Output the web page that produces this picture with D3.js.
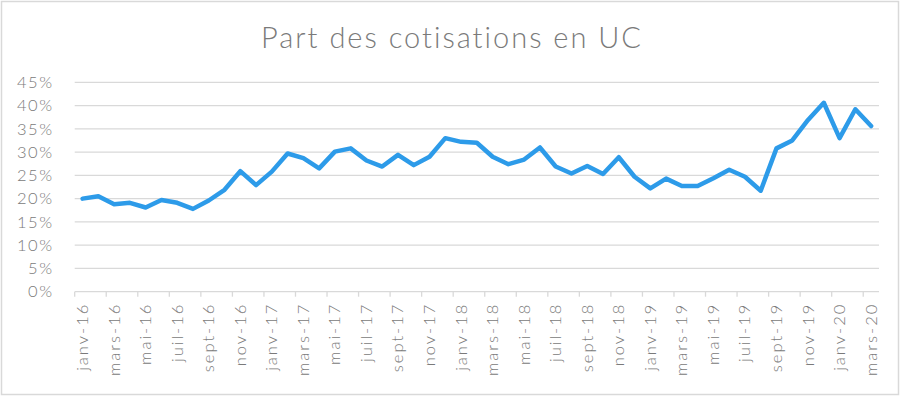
<!DOCTYPE html>
<html>
<head>
<meta charset="utf-8">
<script src="https://cdn.jsdelivr.net/npm/d3@7"></script>
<style>
  body { margin: 0; background: #fff; }
  svg { display: block; font-family: Lato, "Open Sans", sans-serif; }
</style>
</head>
<body>
<div id="chart"></div>
<script>
const titleText = 'Part des cotisations en UC';

const monthNames = ['janv', 'févr', 'mars', 'avr', 'mai', 'juin', 'juil', 'août', 'sept', 'oct', 'nov', 'déc'];

// janv-16 .. mars-20
const categories = [];
for (let y = 16; y <= 20; y++) {
  for (let m = 0; m < 12; m++) {
    if (y === 20 && m > 2) break;
    categories.push(monthNames[m] + '-' + y);
  }
}

const valuesUC = [
  20.0, 20.5, 18.8, 19.1, 18.1, 19.7, 19.1, 17.8, 19.6, 21.9,
  25.9, 22.9, 25.8, 29.7, 28.7, 26.5, 30.1, 30.8, 28.2, 26.9,
  29.4, 27.2, 29.0, 33.0, 32.2, 32.0, 29.0, 27.4, 28.4, 31.0,
  26.9, 25.4, 27.0, 25.3, 28.9, 24.7, 22.2, 24.3, 22.7, 22.7,
  24.4, 26.2, 24.7, 21.7, 30.8, 32.5, 36.9, 40.6, 33.0, 39.2, 35.6
];

const yTicks = [0, 5, 10, 15, 20, 25, 30, 35, 40, 45];

const W = 902, H = 397;
const margin = { left: 74.7, right: 23, top: 82.3, bottom: 105.3 };
const textGray = '#7a7a7a';

const svg = d3.select('#chart').append('svg')
  .attr('width', W).attr('height', H);

// outer frame
svg.append('rect')
  .attr('x', 1.5).attr('y', 1.5)
  .attr('width', W - 5).attr('height', H - 4)
  .attr('fill', '#fff')
  .attr('stroke', '#d9d9d9')
  .attr('stroke-width', 1.5);

svg.append('text')
  .attr('x', 452).attr('y', 48)
  .attr('text-anchor', 'middle')
  .attr('font-size', 29)
  .attr('font-weight', 300)
  .attr('letter-spacing', 2)
  .attr('fill', textGray)
  .text(titleText);

const x = d3.scaleBand()
  .domain(categories)
  .range([margin.left, W - margin.right])
  .padding(0);

const y = d3.scaleLinear()
  .domain([0, 45])
  .range([H - margin.bottom, margin.top]);

// gridlines
svg.append('g')
  .selectAll('line')
  .data(yTicks.filter(d => d > 0))
  .join('line')
  .attr('x1', margin.left).attr('x2', W - margin.right)
  .attr('y1', d => y(d)).attr('y2', d => y(d))
  .attr('stroke', '#d9d9d9')
  .attr('stroke-width', 1.3);

// y axis labels
const yAxis = svg.append('g')
  .attr('transform', `translate(${margin.left - 21},0)`)
  .call(d3.axisLeft(y).tickValues(yTicks).tickFormat(d => d + '%').tickSize(0).tickPadding(0));
yAxis.select('.domain').remove();
yAxis.selectAll('text')
  .attr('font-size', 16.5)
  .attr('font-weight', 300)
  .attr('letter-spacing', 1.6)
  .attr('fill', textGray)
  .attr('font-family', 'Lato, "Open Sans", sans-serif');

// x axis baseline & ticks (ticks at category boundaries, every 2 months)
const baseY = y(0);
const bw = x.bandwidth();
const boundaryIdx = d3.range(0, categories.length + 1, 2);
svg.append('line')
  .attr('x1', margin.left).attr('x2', W - margin.right)
  .attr('y1', baseY).attr('y2', baseY)
  .attr('stroke', '#d9d9d9').attr('stroke-width', 1.3);
svg.append('g')
  .selectAll('line')
  .data(boundaryIdx)
  .join('line')
  .attr('x1', i => x.range()[0] + i * bw)
  .attr('x2', i => x.range()[0] + i * bw)
  .attr('y1', baseY).attr('y2', baseY + 5)
  .attr('stroke', '#d9d9d9').attr('stroke-width', 1.3);

// x labels, rotated
svg.append('g')
  .selectAll('text')
  .data(categories.filter((d, i) => i % 2 === 0))
  .join('text')
  .attr('transform', d => `translate(${x(d) + bw / 2 + 5.5},${baseY + 11}) rotate(-90)`)
  .attr('text-anchor', 'end')
  .attr('font-size', 16.5)
  .attr('font-weight', 300)
  .attr('letter-spacing', 2)
  .attr('fill', textGray)
  .text(d => d);

// the line
const line = d3.line()
  .x((d, i) => x(categories[i]) + bw / 2)
  .y(d => y(d));

svg.append('path')
  .datum(valuesUC)
  .attr('d', line)
  .attr('fill', 'none')
  .attr('stroke', '#2d9be9')
  .attr('stroke-width', 4.5)
  .attr('stroke-linejoin', 'round')
  .attr('stroke-linecap', 'round');
</script>
</body>
</html>
